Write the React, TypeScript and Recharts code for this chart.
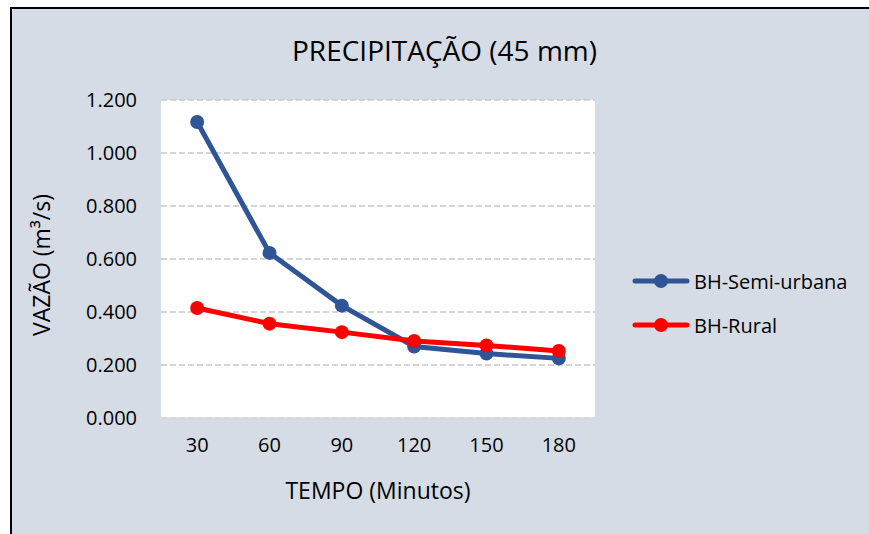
import React from 'react';
import { LineChart, Line, XAxis, YAxis, CartesianGrid } from 'recharts';

const categories = ['30', '60', '90', '120', '150', '180'];
const semiUrbana = [1.117, 0.623, 0.424, 0.27, 0.243, 0.225];
const rural = [0.415, 0.356, 0.324, 0.291, 0.274, 0.253];
const yTicks = [0, 0.2, 0.4, 0.6, 0.8, 1.0, 1.2];
const seriesNames = ['BH-Semi-urbana', 'BH-Rural'];
const seriesColors = ['#2f5597', '#ff0000'];

const data = categories.map((c, i) => ({ t: c, semi: semiUrbana[i], rural: rural[i] }));

const FONT = '"Open Sans", sans-serif';

const LegendBox = () => (
  <div style={{ position: 'absolute', left: 632, top: 259, fontFamily: FONT, fontSize: 20, color: '#000' }}>
    {seriesNames.map((label, i) => (
      <div key={label} style={{ display: 'flex', alignItems: 'center', height: 44, whiteSpace: 'nowrap' }}>
        <svg width={58} height={16} style={{ marginRight: 4 }}>
          <line x1={3} y1={8} x2={55} y2={8} stroke={seriesColors[i]} strokeWidth={5} strokeLinecap="round" />
          <circle cx={29} cy={8} r={7} fill={seriesColors[i]} />
        </svg>
        <span>{label}</span>
      </div>
    ))}
  </div>
);

export default function App() {
  return (
    <div style={{ position: 'fixed', left: 0, top: 0, width: 869, height: 534, background: '#d6dce5', overflow: 'hidden' }}>
      <div style={{ position: 'absolute', left: 0, top: 0, width: 869, height: 7, background: '#fff' }} />
      <div style={{ position: 'absolute', left: 0, top: 0, width: 10, height: 534, background: '#fff' }} />
      <div style={{ position: 'absolute', left: 10, top: 7, width: 859, height: 2, background: '#000' }} />
      <div style={{ position: 'absolute', left: 10, top: 7, width: 2, height: 527, background: '#000' }} />
      <div
        style={{
          position: 'absolute',
          left: 292,
          top: 30,
          whiteSpace: 'nowrap',
          fontFamily: FONT,
          fontSize: 28,
          lineHeight: '40px',
          color: '#000',
        }}
      >
        PRECIPITAÇÃO (45 mm)
      </div>
      <div style={{ position: 'absolute', left: 0, top: 0 }}>
        <LineChart width={869} height={534} data={data} margin={{ top: 100, right: 274, bottom: 86, left: 81 }}>
          <CartesianGrid vertical={false} stroke="#c8c8c8" strokeDasharray="6 3" strokeWidth={1.3} fill="#ffffff" />
          <XAxis
            dataKey="t"
            scale="band"
            tickLine={false}
            axisLine={{ stroke: '#d9d9d9', strokeWidth: 1.5 }}
            tick={{ fill: '#000', fontSize: 20, fontFamily: FONT }}
            tickMargin={14}
          />
          <YAxis
            width={80}
            domain={[0, 1.2]}
            ticks={yTicks}
            tickFormatter={(v: number) => v.toFixed(3)}
            axisLine={false}
            tickLine={false}
            tick={{ fill: '#000', fontSize: 20, fontFamily: FONT }}
            tickMargin={18}
          />
          <Line dataKey="semi" name={seriesNames[0]} stroke={seriesColors[0]} strokeWidth={5} dot={{ r: 7, fill: seriesColors[0], stroke: seriesColors[0], strokeWidth: 0 }} activeDot={false} isAnimationActive={false} />
          <Line dataKey="rural" name={seriesNames[1]} stroke={seriesColors[1]} strokeWidth={5} dot={{ r: 7, fill: seriesColors[1], stroke: seriesColors[1], strokeWidth: 0 }} activeDot={false} isAnimationActive={false} />
        </LineChart>
      </div>
      <div
        style={{
          position: 'absolute',
          left: 378,
          top: 490,
          transform: 'translate(-50%, -50%)',
          whiteSpace: 'nowrap',
          fontFamily: FONT,
          fontSize: 23,
          color: '#000',
        }}
      >
        TEMPO (Minutos)
      </div>
      <div
        style={{
          position: 'absolute',
          left: 41,
          top: 265,
          transform: 'translate(-50%, -50%) rotate(-90deg)',
          whiteSpace: 'nowrap',
          fontFamily: FONT,
          fontSize: 23,
          color: '#000',
        }}
      >
        VAZÃO (m³/s)
      </div>
      <LegendBox />
    </div>
  );
}
